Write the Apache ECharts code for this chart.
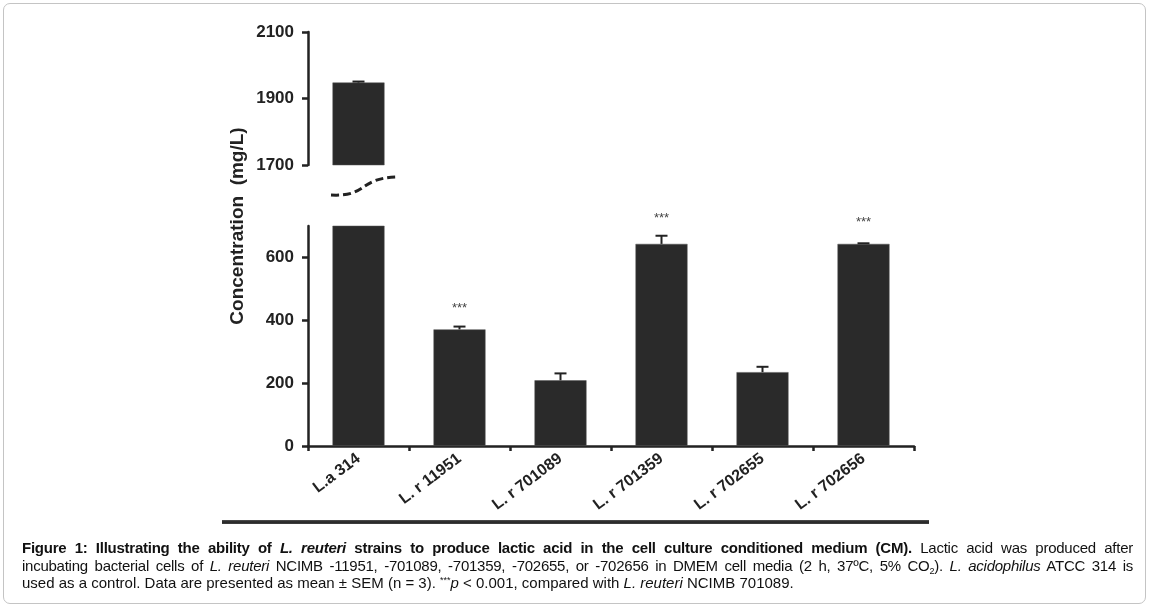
<!DOCTYPE html>
<html>
<head>
<meta charset="utf-8">
<script src="https://cdn.jsdelivr.net/npm/echarts@6/dist/echarts.min.js"></script>
<style>
  html, body { margin: 0; padding: 0; background: #fff; }
  #wrap { position: relative; width: 1152px; height: 612px; overflow: hidden; background: #fff; }
  #frame { position: absolute; left: 3px; top: 3px; width: 1143px; height: 601px; border: 1.5px solid #c4c4c4; border-radius: 7px; box-sizing: border-box; }
  #chart { position: absolute; left: 0; top: 0; width: 1152px; height: 612px; }
  #rule { position: absolute; left: 222px; top: 520px; width: 707px; height: 4px; background: linear-gradient(#555, #222 50%, #444); }
  #caption { position: absolute; left: 22px; top: 539px; width: 1111px; font-family: "Liberation Sans", Arial, sans-serif; font-size: 15px; line-height: 17.5px; color: #111; }
  #caption .j { text-align: justify; text-align-last: justify; white-space: nowrap; }
  #caption .l { text-align: left; white-space: nowrap; }
  #caption .t { letter-spacing: -0.25px; }
  sub { font-size: 9px; vertical-align: -3px; line-height: 0; }
  sup { font-size: 9px; vertical-align: 5px; line-height: 0; }
</style>
</head>
<body>
<div id="wrap">
  <div id="frame"></div>
  <div id="chart"></div>
  <div id="rule"></div>
  <div id="caption">
    <div class="j t"><b>Figure 1: Illustrating the ability of <i>L. reuteri</i> strains to produce lactic acid in the cell culture conditioned medium (CM).</b> Lactic acid was produced after</div>
    <div class="j t">incubating bacterial cells of <i>L. reuteri</i> NCIMB -11951, -701089, -701359, -702655, or -702656 in DMEM cell media (2 h, 37ºC, 5% CO<sub>2</sub>). <i>L. acidophilus</i> ATCC 314 is</div>
    <div class="l">used as a control. Data are presented as mean ± SEM (n = 3). <sup>***</sup><i>p</i> &lt; 0.001, compared with <i>L. reuteri</i> NCIMB 701089.</div>
  </div>
</div>
<script>
// ---- data ----
const categories = ['L.a 314', 'L. r 11951', 'L. r 701089', 'L. r 701359', 'L. r 702655', 'L. r 702656'];
const values = [1948, 371, 209, 643, 235, 643];
const errors = [3, 9, 22, 26, 17, 2];
const significance = ['', '***', '', '***', '', '***'];
const upperTicks = [1700, 1900, 2100];
const lowerTicks = [0, 200, 400, 600];
const yTitle = 'Concentration  (mg/L)';

// ---- build ----
const errData = categories.map((c, i) => [i, values[i], errors[i]]);
const axisColor = '#222';
const labelFont = { color: '#222', fontWeight: 'bold', fontSize: 17, fontFamily: 'Liberation Sans, Arial, sans-serif' };
const plain = v => String(v);

function renderErr(params, api) {
  const i = api.value(0);
  const v = api.value(1);
  const e = api.value(2);
  const base = api.coord([i, v]);
  const top = api.coord([i, v + e]);
  const cs = params.coordSys;
  if (top[1] < cs.y - 1 || base[1] > cs.y + cs.height + 1) return null;
  const x = base[0];
  const children = [
    { type: 'line', shape: { x1: x, y1: base[1], x2: x, y2: top[1] }, style: { stroke: '#222', lineWidth: 2 } },
    { type: 'line', shape: { x1: x - 6, y1: top[1], x2: x + 6, y2: top[1] }, style: { stroke: '#222', lineWidth: 2 } }
  ];
  const s = significance[i];
  if (s) {
    children.push({ type: 'text', style: { text: s, x: x, y: Math.min(top[1], base[1] - 4) - 17, align: 'center', verticalAlign: 'middle', fill: '#444', fontSize: 13, fontFamily: 'Liberation Sans, Arial, sans-serif' } });
  }
  return { type: 'group', children };
}

const chart = echarts.init(document.getElementById('chart'), null, { renderer: 'canvas' });
chart.setOption({
  animation: false,
  backgroundColor: 'transparent',
  grid: [
    { left: 308, top: 32, width: 606, height: 133, containLabel: false },
    { left: 308, top: 226, width: 606, height: 220, containLabel: false }
  ],
  xAxis: [
    { type: 'category', gridIndex: 0, data: categories, show: false },
    {
      type: 'category', gridIndex: 1, data: categories,
      axisLine: { lineStyle: { color: axisColor, width: 2.5 } },
      axisTick: { show: true, length: 5, lineStyle: { color: axisColor, width: 2.5 } },
      axisLabel: Object.assign({}, labelFont, { fontSize: 16, rotate: 37, margin: 11, interval: 0 })
    }
  ],
  yAxis: [
    {
      type: 'value', gridIndex: 0, min: 1700, max: 2100,
      splitLine: { show: false },
      axisLine: { show: true, lineStyle: { color: axisColor, width: 2.5 } },
      axisTick: { show: true, length: 6, lineStyle: { color: axisColor, width: 2.5 }, customValues: upperTicks },
      axisLabel: Object.assign({}, labelFont, { margin: 14, customValues: upperTicks, formatter: plain })
    },
    {
      type: 'value', gridIndex: 1, min: 0, max: 700,
      splitLine: { show: false },
      axisLine: { show: true, lineStyle: { color: axisColor, width: 2.5 } },
      axisTick: { show: true, length: 6, lineStyle: { color: axisColor, width: 2.5 }, customValues: lowerTicks },
      axisLabel: Object.assign({}, labelFont, { margin: 14, customValues: lowerTicks, formatter: plain })
    }
  ],
  series: [
    { type: 'bar', xAxisIndex: 0, yAxisIndex: 0, data: values, barWidth: 52, clip: true,
      itemStyle: { color: '#2a2a2a', borderColor: '#555', borderWidth: 0.5 } },
    { type: 'bar', xAxisIndex: 1, yAxisIndex: 1, data: values, barWidth: 52, clip: true,
      itemStyle: { color: '#2a2a2a', borderColor: '#555', borderWidth: 0.5 } },
    { type: 'custom', xAxisIndex: 0, yAxisIndex: 0, data: errData, renderItem: renderErr, encode: { x: 0, y: 1 }, z: 5 },
    { type: 'custom', xAxisIndex: 1, yAxisIndex: 1, data: errData, renderItem: renderErr, encode: { x: 0, y: 1 }, z: 5 }
  ],
  graphic: [
    { type: 'text', x: 238, y: 226, rotation: Math.PI / 2,
      style: { text: yTitle, align: 'center', verticalAlign: 'middle', fill: '#222', fontSize: 19, fontWeight: 'bold', fontFamily: 'Liberation Sans, Arial, sans-serif' } },
    { type: 'bezierCurve',
      shape: { x1: 331, y1: 195, cpx1: 368, cpy1: 197, cpx2: 358, cpy2: 178, x2: 397, y2: 177 },
      style: { stroke: '#222', lineWidth: 3, lineDash: [8, 4], fill: null } }
  ]
});
</script>
</body>
</html>
